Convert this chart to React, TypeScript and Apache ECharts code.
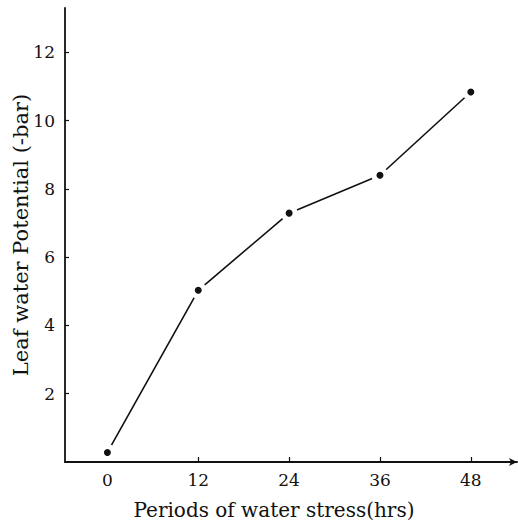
import React, { useEffect, useRef } from "react";
import * as echarts from "echarts";

const hours = [0, 12, 24, 36, 48];
const potential = [0.28, 5.03, 7.29, 8.4, 10.84];
const xTicks = [0, 12, 24, 36, 48];
const yTicks = [2, 4, 6, 8, 10, 12];

export default function App() {
  const ref = useRef<HTMLDivElement>(null);
  useEffect(() => {
    if (!ref.current) return;
    const chart = echarts.init(ref.current, null, { renderer: "svg" });
    const font = "DejaVu Serif";
    chart.setOption({
      animation: false,
      backgroundColor: "#ffffff",
      grid: { left: 65, right: 1, top: 8, bottom: 68, containLabel: false, outerBoundsMode: "none" },
      xAxis: {
        type: "value",
        min: -5.6,
        max: 54.1,
        name: "Periods of water stress(hrs)",
        nameLocation: "middle",
        nameGap: 38,
        nameMoveOverlap: false,
        nameTextStyle: { fontFamily: font, fontSize: 20, color: "#111", padding: [0, 34, 0, 0] },
        splitLine: { show: false },
        axisLine: {
          show: true,
          onZero: false,
          symbol: ["none", "arrow"],
          symbolSize: [6, 8],
          lineStyle: { color: "#111", width: 1.8 },
        },
        axisTick: { show: true, inside: true, length: 5, customValues: xTicks, lineStyle: { color: "#111", width: 1.2 } },
        axisLabel: { customValues: xTicks, margin: 9, fontFamily: font, fontSize: 17, color: "#111" },
      },
      yAxis: {
        type: "value",
        min: 0,
        max: 13.3,
        name: "Leaf water Potential (-bar)",
        nameLocation: "middle",
        nameGap: 34,
        nameRotate: 90,
        nameMoveOverlap: false,
        nameTextStyle: { fontFamily: font, fontSize: 21, color: "#111" },
        splitLine: { show: false },
        axisLine: { show: true, onZero: false, lineStyle: { color: "#111", width: 1.8 } },
        axisTick: { show: true, inside: true, length: 4, customValues: yTicks, lineStyle: { color: "#111", width: 1.2 } },
        axisLabel: { customValues: yTicks, margin: 10, fontFamily: font, fontSize: 17, color: "#111" },
      },
      series: [
        {
          type: "line",
          data: hours.map((h, i) => [h, potential[i]]),
          symbol: "circle",
          symbolSize: 12,
          lineStyle: { color: "#111", width: 1.6 },
          itemStyle: { color: "#111", borderColor: "#fff", borderWidth: 5 },
        },
      ],
    });
    return () => chart.dispose();
  }, []);
  return <div ref={ref} style={{ width: 518, height: 530, position: "absolute", left: 0, top: 0 }} />;
}
